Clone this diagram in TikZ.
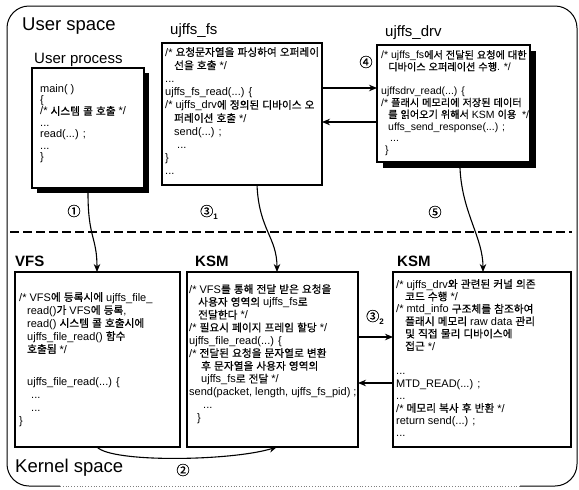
\documentclass[tikz,border=0pt]{standalone}
\usepackage{fontspec}
\setmainfont{Liberation Sans}
\newfontfamily\krfont{Noto Sans CJK KR}[Scale=0.97,FakeBold=0.6]
\usetikzlibrary{shadows,arrows.meta,calc}

\XeTeXinterchartokenstate=1
\newXeTeXintercharclass\KRclass
\newcount\krc
\krc="AC00
\loop
  \XeTeXcharclass\krc=\KRclass
  \advance\krc by 1
\ifnum\krc<"D7A4 \repeat
\krc="2460
\loop
  \XeTeXcharclass\krc=\KRclass
  \advance\krc by 1
\ifnum\krc<"2474 \repeat
\XeTeXinterchartoks 0 \KRclass = {\begingroup\krfont}
\XeTeXinterchartoks 4095 \KRclass = {\begingroup\krfont}
\XeTeXinterchartoks \KRclass 0 = {\endgroup}
\XeTeXinterchartoks \KRclass 4095 = {\endgroup}

\tikzset{
  box/.style={draw, line width=1.2pt, fill=white, inner sep=0pt, outer sep=0pt, anchor=north west},
  shad/.style={drop shadow={shadow xshift=5pt, shadow yshift=-5pt, fill=black, opacity=1}},
  code/.style={anchor=north west, inner sep=0pt, align=left, font={\fontsize{11}{12.4}\selectfont}},
  bigttl/.style={anchor=base west, inner sep=0pt, font={\fontsize{18.5}{22}\selectfont}},
  ttl/.style={anchor=base west, inner sep=0pt, font={\fontsize{15}{18}\selectfont}},
  bttl/.style={anchor=base west, inner sep=0pt, font={\fontsize{15}{18}\selectfont\bfseries}},
  num/.style={inner sep=0pt, font={\fontsize{13.5}{14}\selectfont}},
  arr/.style={-{Stealth[length=8pt,width=6.5pt]}, line width=1.1pt},
  sepline/.style={line width=1.3pt, dash pattern=on 9pt off 4pt},
}
\newcommand{\ind}[1]{\hspace*{#1pt}}
\newcommand{\subn}[1]{\raisebox{-3pt}{\fontsize{8}{8}\selectfont\bfseries #1}}

\begin{document}
\begin{tikzpicture}[x=1pt,y=-1pt]
\useasboundingbox (0,0) rectangle (579,490);

% outer frame
\draw[line width=1pt, rounded corners=22pt] (60,486) -- (7,486) -- (7,6) -- (577,6) -- (577,486) -- (520,486);
\draw[line width=0.8pt, gray, dotted] (60,486) -- (520,486);

% separator
\draw[sepline] (10,232) -- (572,232);

% titles
\node[bigttl] (tus) at (22,30) {User space};
\node[bigttl] (tks) at (15,472) {Kernel space};
\node[ttl] (tup) at (34,63) {User process};
\node[ttl] (tfs) at (170,34) {ujffs\_fs};
\node[ttl] (tdrv) at (385,36) {ujffs\_drv};
\node[bttl] (tvfs) at (15,266) {VFS};
\node[bttl] (tksmA) at (195,266) {KSM};
\node[bttl] (tksmB) at (397,266) {KSM};

% boxes
\node[box, shad, minimum width=112pt, minimum height=120pt] (up) at (32,68) {};
\node[box, minimum width=160pt, minimum height=142pt] (fs) at (162,43) {};
\node[box, drop shadow={shadow xshift=6pt, shadow yshift=-6pt, fill=black, opacity=1}, minimum width=153pt, minimum height=117pt] (drv) at (377,45) {};
\node[box, minimum width=165pt, minimum height=175pt] (vfs) at (15,272) {};
\node[box, minimum width=171pt, minimum height=175pt] (ksmA) at (187,272) {};
\node[box, minimum width=178pt, minimum height=175pt] (ksmB) at (393,272) {};

% code texts
\node[code, font={\fontsize{11}{11.4}\selectfont}] (upT) at (40,84) {%
main( )\\
\{\\
/* 시스템 콜 호출 */\\
...\\
read(...) ;\\
...\\
\}};

\node[code, font={\fontsize{11}{13.2}\selectfont}] (fsT) at (165,47) {%
/* 요청문자열을 파싱하여 오퍼레이\\
\ind{9}선을 호출 */\\
...\\
ujffs\_fs\_read(...) \{\\
/* ujffs\_drv에 정의된 디바이스 오\\
\ind{9}퍼레이션 호출 */\\
\ind{9}send(...) ;\\
\ind{12}...\\
\}\\
...};

\node[code, font={\fontsize{10.5}{11.9}\selectfont}] (drvT) at (381,50) {%
/* ujffs\_fs에서 전달된 요청에 대한\\
\ind{7}디바이스 오퍼레이션 수행. */\\
\mbox{}\\
ujffsdrv\_read(...) \{\\
/* 플래시 메모리에 저장된 데이터\\
\ind{7}를 읽어오기 위해서 KSM 이용 \ */\\
\ind{7}uffs\_send\_response(...) ;\\
\ind{9}...\\
\ind{4}\}};

\node[code, font={\fontsize{11}{13}\selectfont}] (vfsT) at (19,292) {%
/* VFS에 등록시에 ujffs\_file\_\\
\ind{8}read()가 VFS에 등록,\\
\ind{8}read() 시스템 콜 호출시에\\
\ind{8}ujffs\_file\_read() 함수\\
\ind{8}호출됨 */\\[6pt]
\mbox{}\\
\ind{8}ujffs\_file\_read(...) \{\\
\ind{12}...\\
\ind{12}...\\
\}};

\node[code, font={\fontsize{11}{12.8}\selectfont}] (ksmAT) at (189,284) {%
/* VFS를 통해 전달 받은 요청을\\
\ind{9}사용자 영역의 ujffs\_fs로\\
\ind{9}전달한다 */\\
/* 필요시 페이지 프레임 할당 */\\
ujffs\_file\_read(...) \{\\
/* 전달된 요청을 문자열로 변환\\
\ind{12}후 문자열을 사용자 영역의\\
\ind{12}ujffs\_fs로 전달 */\\
send(packet, length, ujffs\_fs\_pid) ;\\
\ind{14}...\\
\ind{8}\}};

\node[code] (ksmBT) at (396,279) {%
/* ujffs\_drv와 관련된 커널 의존\\
\ind{9}코드 수행 */\\
/* mtd\_info 구조체를 참조하여\\
\ind{9}플래시 메모리 raw data 관리\\
\ind{9}및 직접 물리 디바이스에\\
\ind{9}접근 */\\
\mbox{}\\
...\\
MTD\_READ(...) ;\\
...\\
/* 메모리 복사 후 반환 */\\
return send(...) ;\\
...};

% connectors
\draw[arr] ($(up.south west)+(56,5)$) .. controls +(0,45) and +(0,-35) .. ($(vfs.north west)+(82,0)$);
\draw[arr] ($(fs.south west)+(95,0)$) .. controls +(2,45) and +(0,-35) .. ($(ksmA.north west)+(90,0)$);
\draw[arr] ($(drv.south west)+(83,6)$) .. controls +(2,45) and +(0,-35) .. ($(ksmB.north west)+(90,0)$);
\draw[arr] ($(vfs.south west)+(82,0)$) .. controls +(15,16) and +(-45,14) .. ($(ksmA.south west)+(90,0)$);
\draw[arr] (fs.east |- 0,88) -- (drv.west |- 0,88);
\draw[arr] (drv.west |- 0,122) -- (fs.east |- 0,122);
\draw[arr] (ksmA.east |- 0,337) -- (ksmB.west |- 0,337);
\draw[arr] (ksmB.west |- 0,383) -- (ksmA.east |- 0,383);

% step labels
\node[num] (n1) at (74,211) {①};
\node[num, anchor=west] (n31) at (200,212) {③\subn{1}};
\node[num] (n5) at (435,212) {⑤};
\node[num] (n4) at (366,62) {④};
\node[num, anchor=west] (n32) at (366,317) {③\subn{2}};
\node[num] (n2) at (183,470) {②};
\end{tikzpicture}
\end{document}
